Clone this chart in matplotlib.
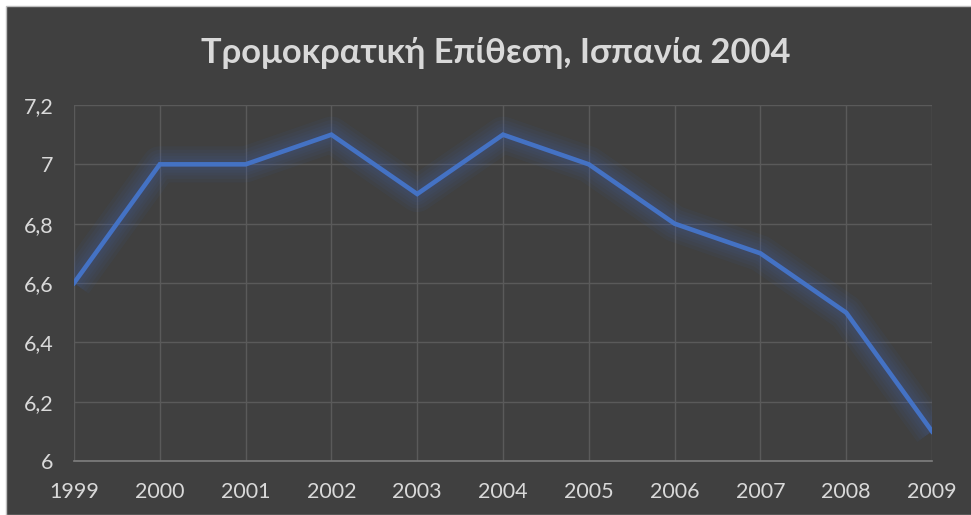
import matplotlib.pyplot as plt
from matplotlib.patches import Rectangle
from matplotlib.ticker import FuncFormatter

# data
years = [1999, 2000, 2001, 2002, 2003, 2004, 2005, 2006, 2007, 2008, 2009]
values = [6.6, 7.0, 7.0, 7.1, 6.9, 7.1, 7.0, 6.8, 6.7, 6.5, 6.1]
title = "Τρομοκρατική Επίθεση, Ισπανία 2004"

bg = '#404040'
txt = '#d9d9d9'
grid = '#5a5a5a'
blue = '#4472c4'

plt.rcParams['font.family'] = ['Lato', 'DejaVu Sans']

fig = plt.figure(figsize=(9.71, 5.15), dpi=100, facecolor='white')
# dark chart area with a thin light edge at top/left
frame = Rectangle((6/971, 0), 1, 1 - 6/515, transform=fig.transFigure,
                  facecolor=bg, edgecolor='#bfbfbf', linewidth=1)
frame.set_zorder(-5)
fig.add_artist(frame)

ax = fig.add_axes([74/971, 1 - 461/515, (932-74)/971, (461-105)/515])
ax.set_facecolor(bg)

# glow around the line
for w in [26, 21, 16, 12, 8]:
    ax.plot(years, values, color='#3f63b0', linewidth=w, alpha=0.07,
            solid_joinstyle='round', solid_capstyle='butt', zorder=2)
ax.plot(years, values, color=blue, linewidth=3.3, solid_joinstyle='miter', zorder=3)

ax.set_xlim(1999, 2009)
ax.set_ylim(6, 7.2)
ax.set_xticks(years)
ax.set_yticks([6, 6.2, 6.4, 6.6, 6.8, 7.0, 7.2])
ax.yaxis.set_major_formatter(FuncFormatter(lambda v, p: ('%g' % round(v, 1)).replace('.', ',')))

ax.grid(True, color=grid, linewidth=1, zorder=1)
ax.set_axisbelow(True)
for s in ['top', 'right', 'left']:
    ax.spines[s].set_visible(False)
ax.spines['bottom'].set_color('#7f7f7f')
ax.spines['bottom'].set_linewidth(1.2)
ax.tick_params(length=0, colors=txt, labelsize=15.5)
ax.tick_params(axis='y', pad=15)
ax.tick_params(axis='x', pad=15)

fig.text(496/971, 1 - 53/515, title, ha='center', va='center', color=txt,
         fontsize=24.8, fontweight='bold')

fig.savefig('out.png', dpi=100, facecolor=fig.get_facecolor())
